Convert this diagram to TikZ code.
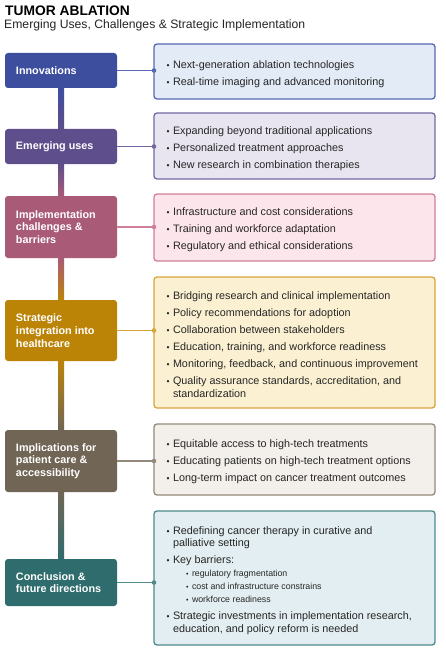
\documentclass[tikz,border=0pt]{standalone}
\usepackage{fontspec}
\setmainfont{Liberation Sans}
\usetikzlibrary{calc}
\definecolor{bA}{HTML}{3D4E9F}\definecolor{bB}{HTML}{5867B3}\definecolor{bC}{HTML}{E3EBF6}
\definecolor{pA}{HTML}{5E4E8B}\definecolor{pB}{HTML}{7668A5}\definecolor{pC}{HTML}{E8E5F0}
\definecolor{rA}{HTML}{A95A77}\definecolor{rB}{HTML}{CF7F9A}\definecolor{rC}{HTML}{FCE6EC}
\definecolor{gA}{HTML}{BB8407}\definecolor{gB}{HTML}{D8A43C}\definecolor{gC}{HTML}{FBF1D2}
\definecolor{nA}{HTML}{716655}\definecolor{nB}{HTML}{948A7C}\definecolor{nC}{HTML}{F3EFEA}
\definecolor{tA}{HTML}{2F6C6D}\definecolor{tB}{HTML}{4F8B8D}\definecolor{tC}{HTML}{E2EEF1}
\definecolor{txt}{HTML}{262626}
\newenvironment{blist}{\begin{list}{\fontsize{8.5}{8.5}\selectfont\textbullet}{\setlength{\leftmargin}{8pt}\setlength{\labelwidth}{4pt}\setlength{\labelsep}{3.5pt}\setlength{\itemsep}{4.3pt}\setlength{\parsep}{0pt}\setlength{\topsep}{0pt}\setlength{\partopsep}{0pt}}\raggedright}{\end{list}}
\newenvironment{slist}{\begin{list}{\fontsize{7}{7}\selectfont\textbullet}{\setlength{\leftmargin}{19pt}\setlength{\labelwidth}{4pt}\setlength{\labelsep}{3.5pt}\setlength{\itemsep}{0.3pt}\setlength{\parsep}{0pt}\setlength{\topsep}{0pt}\setlength{\partopsep}{0pt}}\raggedright\fontsize{8.8}{12.7}\selectfont}{\end{list}}
\tikzset{
  lbox/.style={fill=#1, rounded corners=3pt, text=white, font=\bfseries\fontsize{10.8}{12.7}\selectfont, align=flush left, text width=90pt, inner xsep=11pt, inner ysep=0pt, minimum width=112pt},
  rbox/.style={draw=#1, rounded corners=3pt, line width=1.3pt, outer sep=0pt, align=flush left, text width=259pt, inner xsep=11pt, inner ysep=0pt, minimum width=281pt, font=\fontsize{10.8}{12.7}\selectfont, text=txt},
  conn/.style={draw=#1, line width=1.8pt},
}
\begin{document}
\begin{tikzpicture}[x=1pt,y=1pt]
\useasboundingbox[fill=white] (0,0) rectangle (446,-650);
\node[anchor=base west, inner sep=0pt, font=\bfseries\fontsize{13.8}{15}\selectfont] (title) at (5,-15.5) {TUMOR ABLATION};
\node[anchor=base west, inner sep=0pt, font=\fontsize{12.2}{14}\selectfont, text=txt] (sub) at (4,-29) {Emerging Uses, Challenges \& Strategic Implementation};
% left boxes
\node[lbox=bA, minimum height=35pt] (l1) at (61,-70.5) {Innovations};
\node[lbox=pA, minimum height=35pt] (l2) at (61,-146.5) {Emerging uses};
\node[lbox=rA, minimum height=62pt] (l3) at (61,-227) {Implementation\\challenges \&\\barriers};
\node[lbox=gA, minimum height=61pt] (l4) at (61,-330.5) {Strategic\\integration into\\healthcare};
\node[lbox=nA, minimum height=62pt] (l5) at (61,-461) {Implications for\\patient care \&\\accessibility};
\node[lbox=tA, minimum height=47pt] (l6) at (61,-582.5) {Conclusion \&\\future directions};
% right boxes
\node[rbox=bB, fill=bC, minimum height=55pt] (r1) at (294.5,-71.5) {\begin{blist}\item Next-generation ablation technologies\item Real-time imaging and advanced monitoring\end{blist}};
\node[rbox=pB, fill=pC, minimum height=66pt] (r2) at (294.5,-146) {\begin{blist}\item Expanding beyond traditional applications\item Personalized treatment approaches\item New research in combination therapies\end{blist}};
\node[rbox=rB, fill=rC, minimum height=67pt] (r3) at (294.5,-227.5) {\begin{blist}\item Infrastructure and cost considerations\item Training and workforce adaptation\item Regulatory and ethical considerations\end{blist}};
\node[rbox=gB, fill=gC, minimum height=131pt] (r4) at (294.5,-342.5) {\begin{blist}\item Bridging research and clinical implementation\item Policy recommendations for adoption\item Collaboration between stakeholders\item Education, training, and workforce readiness\item Monitoring, feedback, and continuous improvement\item Quality assurance standards, accreditation, and\newline standardization\end{blist}};
\node[rbox=nB, fill=nC, minimum height=71pt] (r5) at (294.5,-459.5) {\begin{blist}\item Equitable access to high-tech treatments\item Educating patients on high-tech treatment options\item Long-term impact on cancer treatment outcomes\end{blist}};
\node[rbox=tB, fill=tC, minimum height=134pt] (r6) at (294.5,-578) {\begin{blist}\item Redefining cancer therapy in curative and\newline palliative setting\item Key barriers:\begin{slist}\item regulatory fragmentation\item cost and infrastructure constrains\item workforce readiness\end{slist}\item Strategic investments in implementation research,\newline education, and policy reform is needed\end{blist}};
% spine
\shade[top color=bA, bottom color=pA] ($(l1.south)+(-3,0)$) rectangle ($(l2.north)+(3,0)$);
\shade[top color=pA, bottom color=rA] ($(l2.south)+(-3,0)$) rectangle ($(l3.north)+(3,0)$);
\shade[top color=rA, bottom color=gA] ($(l3.south)+(-3,0)$) rectangle ($(l4.north)+(3,0)$);
\shade[top color=gA, bottom color=nA] ($(l4.south)+(-3,0)$) rectangle ($(l5.north)+(3,0)$);
\shade[top color=nA, bottom color=tA] ($(l5.south)+(-3,0)$) rectangle ($(l6.north)+(3,0)$);
% connectors
\foreach \i/\c in {1/bB,2/pB,3/rB,4/gB,5/nB,6/tB}{
  \draw[conn=\c] (l\i.east) -- (l\i.east -| r\i.west) coordinate (d\i);
  \fill[\c] (d\i) circle (2.3pt);
}
\end{tikzpicture}
\end{document}
